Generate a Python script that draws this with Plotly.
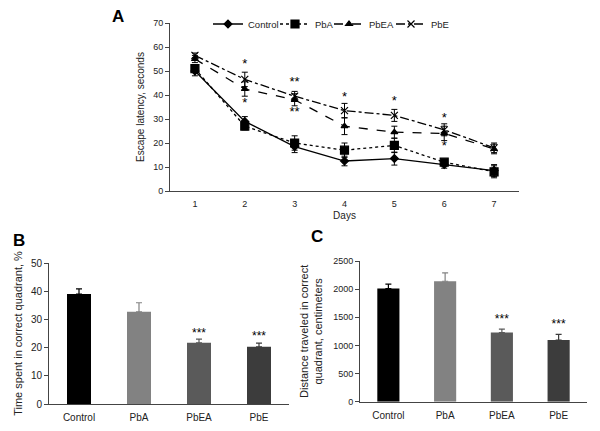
import plotly.graph_objects as go

# ---------------- data ----------------
days = [1, 2, 3, 4, 5, 6, 7]
control = [50, 29, 18.5, 12.5, 13.5, 11, 8.5]
control_err = [2, 2, 2.5, 2, 2.7, 1.5, 2.5]
pba = [51, 27, 20, 17, 19, 12, 8]
pba_err = [1.5, 1.5, 3, 3, 3, 1, 2.5]
pbea = [55, 42.5, 38, 27, 24.5, 24, 17.5]
pbea_err = [1.5, 3, 2.5, 3.5, 2.5, 3, 2]
pbe = [56.5, 46.5, 39.5, 33.5, 31.5, 25.5, 18]
pbe_err = [1, 3, 2, 3, 2.5, 2.5, 2]

star_days = [2, 2, 3, 3, 4, 5, 6, 6]
star_vals = [52.5, 36.5, 45, 32.5, 39, 37, 30, 18.3]
star_text = ["*", "*", "**", "**", "*", "*", "*", "*"]

groups = ["Control", "PbA", "PbEA", "PbE"]
bar_colors = ["#000000", "#828282", "#5a5a5a", "#3c3c3c"]
time_pct = [39, 32.7, 21.7, 20.3]
time_err = [1.8, 3.2, 1.3, 1.3]
time_stars = ["", "", "***", "***"]
dist_cm = [2010, 2140, 1230, 1095]
dist_err = [80, 150, 60, 100]
dist_stars = ["", "", "***", "***"]

FONT = "Liberation Sans, Arial, sans-serif"

# page body has an 8px margin; figure is sized to fill the rest of the window
OFF = 8
W, H = 600 - OFF, 431 - OFF


def px(x):
    return (x - OFF) / W


def py(y):
    return 1 - (y - OFF) / H


fig = go.Figure()

# ---------------- panel A ----------------
series = [
    ("Control", control, control_err, "solid", "diamond", 6, "legend", 208),
    ("PbA", pba, pba_err, "dot", "square", 8, "legend2", 275),
    ("PbEA", pbea, pbea_err, "dash", "triangle-up", 6, "legend3", 329),
    ("PbE", pbe, pbe_err, "dashdot", "x-thin-open", 7, "legend4", 391),
]
legend_layouts = {}
for name, vals, err, dash, sym, size, leg, lx in series:
    fig.add_trace(go.Scatter(
        x=days, y=vals, name=name, mode="lines+markers",
        line=dict(color="black", width=1.3, dash=dash),
        marker=dict(symbol=sym, size=size, color="black",
                    line=dict(color="black", width=1.2)),
        error_y=dict(type="data", array=err, visible=True, color="black",
                     thickness=1, width=3),
        xaxis="x", yaxis="y", legend=leg,
    ))
    legend_layouts[leg] = dict(
        orientation="h", x=px(lx), y=py(24), xanchor="left", yanchor="middle",
        font=dict(size=9.5, color="#222", family=FONT),
        bgcolor="rgba(0,0,0,0)", itemwidth=30, borderwidth=0,
    )

fig.add_trace(go.Scatter(
    x=star_days, y=star_vals, text=star_text, mode="text",
    textfont=dict(size=13, color="black", family=FONT),
    showlegend=False, xaxis="x", yaxis="y", hoverinfo="skip",
))

# ---------------- panel B ----------------
for g, v, e, c in zip(groups, time_pct, time_err, bar_colors):
    fig.add_trace(go.Bar(
        x=[g], y=[v], marker=dict(color=c, line=dict(width=0)), width=0.4,
        error_y=dict(type="data", array=[e], arrayminus=[0], visible=True,
                     color=c, thickness=1.2, width=3),
        showlegend=False, xaxis="x2", yaxis="y2",
    ))
fig.add_trace(go.Scatter(
    x=groups, y=[v + e + 2.0 for v, e in zip(time_pct, time_err)],
    text=time_stars, mode="text",
    textfont=dict(size=12, color="black", family=FONT),
    showlegend=False, xaxis="x2", yaxis="y2", hoverinfo="skip",
))

# ---------------- panel C ----------------
for g, v, e, c in zip(groups, dist_cm, dist_err, bar_colors):
    fig.add_trace(go.Bar(
        x=[g], y=[v], marker=dict(color=c, line=dict(width=0)), width=0.39,
        error_y=dict(type="data", array=[e], arrayminus=[0], visible=True,
                     color=c, thickness=1.2, width=3),
        showlegend=False, xaxis="x3", yaxis="y3",
    ))
fig.add_trace(go.Scatter(
    x=groups, y=[v + e + 160 for v, e in zip(dist_cm, dist_err)],
    text=dist_stars, mode="text",
    textfont=dict(size=12, color="black", family=FONT),
    showlegend=False, xaxis="x3", yaxis="y3", hoverinfo="skip",
))

axis_common = dict(showgrid=False, zeroline=False, showline=True,
                   linecolor="#444", linewidth=1, automargin=False)
yaxis_ticks = dict(ticks="outside", ticklen=4, tickcolor="#444")
xaxis_ticks = dict(ticks="outside", ticklen=4, tickcolor="rgba(0,0,0,0)")
tickf_small = dict(size=9, color="#222", family=FONT)
tickf = dict(size=10, color="#222", family=FONT)

fig.update_layout(
    width=W, height=H,
    margin=dict(l=0, r=0, t=0, b=0),
    paper_bgcolor="white", plot_bgcolor="white",
    font=dict(family=FONT, color="#222", size=10),
    barmode="overlay",
    xaxis=dict(domain=[px(170), px(519)], range=[0.5, 7.5],
               tickvals=days, tickfont=tickf_small,
               title=dict(text="Days", font=dict(size=10), standoff=4),
               anchor="y", **axis_common, **xaxis_ticks),
    yaxis=dict(domain=[py(191), py(23)], range=[0, 70], dtick=10,
               tickfont=tickf_small,
               title=dict(text="Escape latency, seconds", font=dict(size=10), standoff=6),
               anchor="x", **axis_common, **yaxis_ticks),
    xaxis2=dict(domain=[px(49), px(289)], range=[-0.5, 3.5],
                tickfont=tickf, anchor="y2", **axis_common, **xaxis_ticks),
    yaxis2=dict(domain=[py(404), py(263)], range=[0, 50], dtick=10,
                tickfont=tickf,
                title=dict(text="Time spent in correct quadrant, %", font=dict(size=11), standoff=6),
                anchor="x2", **axis_common, **yaxis_ticks),
    xaxis3=dict(domain=[px(360), px(587)], range=[-0.5, 3.5],
                tickfont=tickf, anchor="y3", **axis_common, **xaxis_ticks),
    yaxis3=dict(domain=[py(401.7), py(261)], range=[0, 2500], dtick=500,
                tickfont=tickf_small,
                title=dict(text="Distance traveled in correct<br>quadrant, centimeters",
                           font=dict(size=11), standoff=8),
                anchor="x3", **axis_common, **yaxis_ticks),
    annotations=[
        dict(text="<b>A</b>", x=px(118), y=py(16), xref="paper", yref="paper",
             xanchor="center", yanchor="middle",
             showarrow=False, font=dict(size=17, color="black", family=FONT)),
        dict(text="<b>B</b>", x=px(19), y=py(240), xref="paper", yref="paper",
             xanchor="center", yanchor="middle",
             showarrow=False, font=dict(size=17, color="black", family=FONT)),
        dict(text="<b>C</b>", x=px(317), y=py(236), xref="paper", yref="paper",
             xanchor="center", yanchor="middle",
             showarrow=False, font=dict(size=17, color="black", family=FONT)),
    ],
    **legend_layouts,
)

fig.write_html("out.html")
